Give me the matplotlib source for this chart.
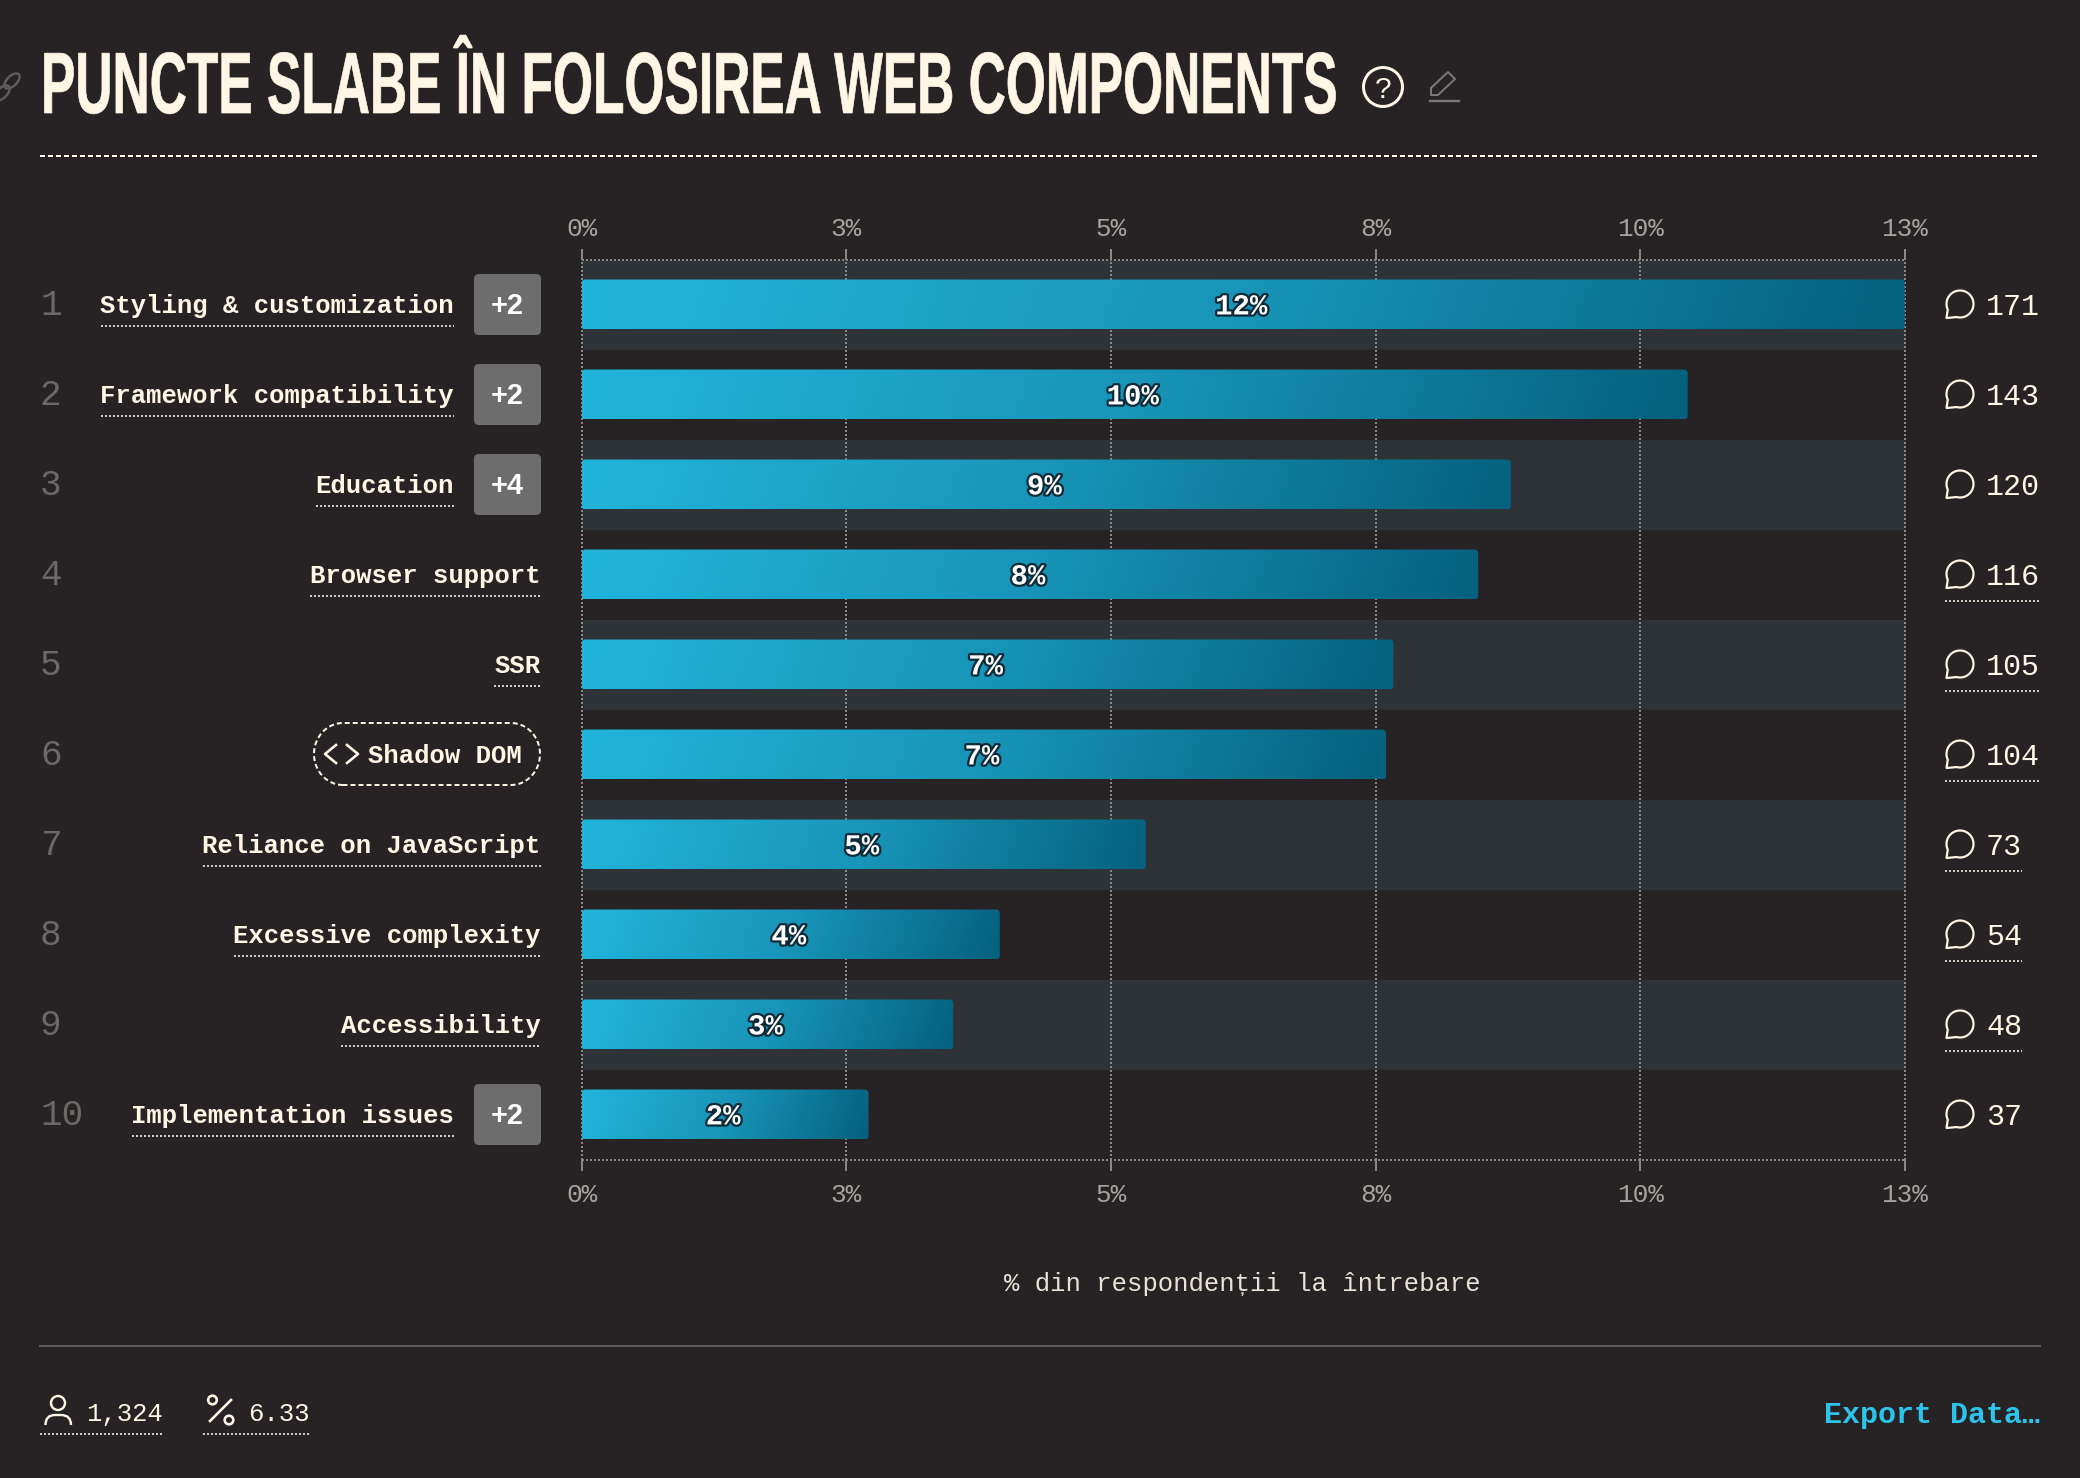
# -*- coding: utf-8 -*-

import numpy as np
import matplotlib
matplotlib.use("Agg")
import matplotlib.pyplot as plt
import matplotlib.patheffects as pe
from matplotlib.colors import LinearSegmentedColormap
from matplotlib.patches import Circle, Ellipse, FancyBboxPatch, PathPatch, Polygon
from matplotlib.path import Path
from matplotlib.transforms import Affine2D

titlu = "PUNCTE SLABE ÎN FOLOSIREA WEB COMPONENTS"
eixo_titulo = "% din respondenții la întrebare"

labels = ["Styling & customization", "Framework compatibility", "Education", "Browser support", "SSR",
          "Shadow DOM", "Reliance on JavaScript", "Excessive complexity", "Accessibility", "Implementation issues"]
values = [12.5, 10.45, 8.78, 8.47, 7.67, 7.6, 5.33, 3.95, 3.51, 2.71]
pct_labels = ["12%", "10%", "9%", "8%", "7%", "7%", "5%", "4%", "3%", "2%"]
counts = [171, 143, 120, 116, 105, 104, 73, 54, 48, 37]
extras = [2, 2, 4, 0, 0, 0, 0, 0, 0, 2]
ticks = [0, 2.5, 5, 7.5, 10, 12.5]
tick_labels = ["0%", "3%", "5%", "8%", "10%", "13%"]
total = "1,324"
cota = "6.33"

BG = "#272324"
CREAM = "#fff6e6"
GREY = "#8a8683"
MONO = "Liberation Mono"
PT = 0.72  # 1 px in points at dpi 100


class Stretch(pe.AbstractPathEffect):
    # makes the glyphs taller around the baseline, the text stays a normal Text
    def __init__(self, sy, y0, lw):
        super().__init__()
        self.sy = sy
        self.y0 = y0
        self.lw = lw

    def draw_path(self, renderer, gc, tpath, affine, rgbFace=None):
        t = affine + Affine2D().translate(0, -self.y0).scale(1, self.sy).translate(0, self.y0)
        gc0 = renderer.new_gc()
        gc0.copy_properties(gc)
        gc0.set_foreground(rgbFace)
        gc0.set_linewidth(self.lw)
        renderer.draw_path(gc0, tpath, t, rgbFace)
        gc0.restore()


fig = plt.figure(figsize=(20.8, 14.78), dpi=100, facecolor=BG)

# overlay in pixels for the page parts around the chart
ov = fig.add_axes([0, 0, 1, 1], zorder=2)
ov.set_xlim(0, 2080)
ov.set_ylim(1478, 0)
ov.axis("off")
ov.patch.set_alpha(0)

# chart area
ax = fig.add_axes([581.7 / 2080, 1 - 1159.5 / 1478, 1323 / 2080, 900 / 1478], zorder=1)
ax.set_facecolor("none")

rows = np.arange(len(labels)) + 0.5
ax.barh(rows[::2], [12.5] * 5, height=1, color="#2d3336", zorder=0.2)

bar_h = 50 / 90
cmap = LinearSegmentedColormap.from_list("bar", ["#22b5dc", "#1895b8", "#05617e"])
bars = ax.barh(rows, values, height=bar_h, color="none", zorder=3)
px_x = 1323 / 12.5
for b in bars:
    w = b.get_width()
    y0 = b.get_y()
    u, v = np.meshgrid(np.linspace(0, 1, 300), np.linspace(0, 1, 20))
    grad = (u * w * px_x + v * 50 * 0.35) / (w * px_x + 50 * 0.35)
    im = ax.imshow(grad, cmap=cmap, vmin=0, vmax=1, extent=[0, w, y0 + bar_h, y0], aspect="auto",
                   interpolation="bilinear", zorder=3)
    clip = FancyBboxPatch((0, y0), w, bar_h, boxstyle="round,pad=0,rounding_size=%f" % (4 / px_x),
                          mutation_aspect=px_x / 90, transform=ax.transData, facecolor="none", edgecolor="none")
    ax.add_patch(clip)
    im.set_clip_path(clip)

for y, v, t in zip(rows, values, pct_labels):
    ax.text(v / 2 - 2 / px_x, y - 0.012, t, ha="center", va="center_baseline", color="white", family=MONO,
            weight="bold", fontsize=29 * PT, zorder=5,
            path_effects=[pe.withStroke(linewidth=4.5 * PT, foreground="#0c2a38")])

ax.set_xlim(0, 12.5)
ax.set_ylim(10, 0)
ax.set_yticks([])
ax.set_xticks(ticks)
ax.set_xticklabels(tick_labels, family=MONO, fontsize=26 * PT, color="#a8a39d")
ax.tick_params(axis="x", top=True, bottom=True, labeltop=True, labelbottom=True, length=11 * PT,
               width=2 * PT, color=GREY, pad=7 * PT)
for tick in ax.xaxis.get_major_ticks():
    tick.label1.set_transform(tick.label1.get_transform() + Affine2D().translate(0, -5))
ax.set_axisbelow(True)
ax.grid(axis="x", color=GREY, linewidth=2 * PT, linestyle=(0, (1, 1)))
for g in ax.get_xgridlines():
    g.set_clip_on(False)
for s in ["left", "right"]:
    ax.spines[s].set_visible(False)
for s in ["top", "bottom"]:
    ax.spines[s].set_color(GREY)
    ax.spines[s].set_linewidth(2 * PT)
    ax.spines[s].set_linestyle((0, (1, 1)))
    ax.spines[s].set_capstyle("butt")


def dotted(x0, x1, y):
    ov.plot([x0, x1], [y, y], color="#d0cbc1", lw=2 * PT, ls=(0, (1, 1)))


# rows: rank, label, badge, count
for i, nome in enumerate(labels):
    c = 304 + i * 90
    ov.text(40, c + 11, str(i + 1), family=MONO, fontsize=36 * PT, color="#6b6866", va="baseline")
    if nome == "Shadow DOM":
        a = np.radians(np.linspace(90, 270, 40))
        pill = np.vstack([np.column_stack([343 + 29 * np.cos(a), c + 31 * np.sin(a)]),
                          np.column_stack([511 - 29 * np.cos(a), c - 31 * np.sin(a)])])
        ov.add_patch(Polygon(pill, closed=True, fc="none", ec=CREAM, lw=2 * PT, ls=(0, (2.5, 1.5))))
        ov.plot([336, 325, 336], [c - 9, c, c + 9], color=CREAM, lw=2.6 * PT)
        ov.plot([347, 358, 347], [c - 9, c, c + 9], color=CREAM, lw=2.6 * PT)
        ov.text(522, c + 9, nome, ha="right", family=MONO, weight="bold", fontsize=25.6 * PT, color=CREAM)
    else:
        xr = 454 if extras[i] else 540.5
        ov.text(xr, c + 9, nome, ha="right", family=MONO, weight="bold", fontsize=25.6 * PT, color=CREAM)
        dotted(xr - len(nome) * 15.35, xr, c + 22)
    if extras[i]:
        ov.add_patch(FancyBboxPatch((474, c - 30), 67, 61, boxstyle="round,pad=0,rounding_size=5",
                                    fc="#6e6d6d", ec="none"))
        ov.text(507.5, c + 9.5, "+%d" % extras[i], ha="center", family="Liberation Sans", weight="bold",
                fontsize=29 * PT, color="white")

    # speech bubble
    a = np.radians(np.linspace(-205, 105, 50))
    pts = np.column_stack([1960 + 13.5 * np.cos(a), c + 13.5 * np.sin(a)])
    pts = np.vstack([pts, [[1946.5, c + 14]]])
    ov.add_patch(Polygon(pts, closed=True, fc="none", ec=CREAM, lw=2.2 * PT, joinstyle="round"))
    n = str(counts[i])
    ov.text(1986, c + 11, n, family=MONO, fontsize=30 * PT, color=CREAM)
    if not extras[i]:
        dotted(1945, 1987 + len(n) * 17.4, c + 27)

# title: font size sets the width, the effect brings the caps up to full height
tx = ov.text(41, 113, titlu, family="Liberation Sans", weight="bold", fontsize=87 * PT, color=CREAM)
fig.canvas.draw()
largura = tx.get_window_extent(fig.canvas.get_renderer()).width
tam = 87 * 1297 / largura
tx.set_fontsize(tam * PT)
tx.set_path_effects([Stretch(87 / tam, 1478 - 113, 0.5)])

ov.plot([40, 2040], [155.7, 155.7], color=CREAM, lw=2 * PT, ls=(0, (2.5, 1.5)))

# help and edit icons next to the title
ov.add_patch(Circle((1383, 87), 19.5, fc="none", ec=CREAM, lw=3 * PT))
ov.text(1383, 97.5, "?", ha="center", family="Liberation Sans", fontsize=30 * PT, color=CREAM)
ov.add_patch(Polygon([[1431, 95], [1431, 88], [1448, 72], [1455, 79], [1438, 95]], closed=True,
                     fc="none", ec="#7a7775", lw=2 * PT, joinstyle="round"))
ov.plot([1430, 1459], [101, 101], color="#7a7775", lw=2.4 * PT)
for xc, yc in [(12, 81), (2, 93)]:
    ov.add_patch(Ellipse((xc, yc), 19, 10, angle=-45, fc="none", ec="#5f5c5b", lw=2.4 * PT))

# axis title and footer
ov.text(1242, 1291, eixo_titulo, ha="center", family=["Liberation Mono", "DejaVu Sans Mono"],
        fontsize=25.6 * PT, color="#e8e2d8")
ov.plot([40, 2040], [1346, 1346], color="#5c5a59", lw=2 * PT)

ov.add_patch(Circle((58, 1403), 7, fc="none", ec=CREAM, lw=2.4 * PT))
ov.add_patch(PathPatch(Path([(45.5, 1425), (45.5, 1415), (55, 1415), (61, 1415), (71, 1415), (71, 1425)],
                            [Path.MOVETO, Path.CURVE3, Path.CURVE3, Path.LINETO, Path.CURVE3, Path.CURVE3]),
                       fc="none", ec=CREAM, lw=2.4 * PT))
ov.text(86, 1421, total, family=MONO, fontsize=25.6 * PT, color=CREAM)
dotted(40, 163, 1434)

ov.add_patch(Circle((212.5, 1400), 4.3, fc="none", ec=CREAM, lw=2.6 * PT))
ov.add_patch(Circle((229, 1420), 4.3, fc="none", ec=CREAM, lw=2.6 * PT))
ov.plot([210, 231], [1421, 1400], color=CREAM, lw=2.6 * PT)
ov.text(248, 1421, cota, family=MONO, fontsize=25.6 * PT, color=CREAM)
dotted(203, 310, 1434)

ov.text(2040, 1423, "Export Data…", ha="right", family=MONO, weight="bold", fontsize=30 * PT, color="#2cc4ea")

plt.savefig("out.png", dpi=100, facecolor=BG)
